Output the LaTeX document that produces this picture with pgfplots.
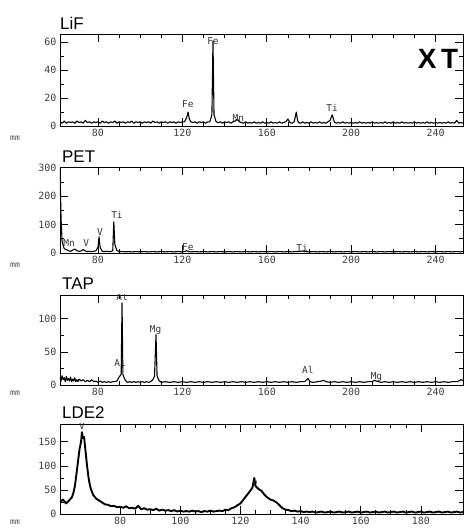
\documentclass[border=0pt]{standalone}
\usepackage{pgfplots}
\pgfplotsset{compat=1.18}
\usepackage{fontspec}
\setmainfont{Liberation Sans}
\newfontfamily\tickfont{DejaVu Sans Mono}
\pgfplotsset{
  spec/.style={
    scale only axis, width=403bp, anchor=south west,
    axis line style={line width=0.8pt},
    tick style={black, line width=0.7pt},
    tick align=inside,
    major tick length=8bp, minor tick length=4bp,
    ticklabel style={font=\tickfont\fontsize{10}{10}\selectfont, text=black!75},
    /pgf/number format/assume math mode=true,
  },
}
\tikzset{
  lbl/.style={font=\tickfont\fontsize{9.5}{9.5}\selectfont, text=black!80, inner sep=0pt},
  ttl/.style={font=\fontsize{17}{17}\selectfont, anchor=base west, inner sep=0pt},
  mm/.style={font=\tickfont\fontsize{8}{8}\selectfont, text=black!70, inner sep=0pt},
  trace/.style={black, line width=1.1pt, line join=round},
}
\begin{document}
\begin{tikzpicture}
\useasboundingbox (0bp,0bp) rectangle (468bp,528bp);
% ---------------- LiF ----------------
\begin{axis}[spec, at={(60bp,402bp)}, height=92bp,
  xmin=62, xmax=253, ymin=0, ymax=66,
  xtick={80,120,160,200,240}, minor x tick num=3,
  ytick={0,20,40,60}, minor y tick num=1]
\addplot[trace] table {
62 3
63 2
64 3.5
65 2
66 3
67 2.5
68 3
69 2
70 3.5
71 2.5
72 3
73 2
74 4
75 2.5
76 3
77 2
78 3
79 2.5
80 3
81 2
82 3.5
83 2.5
84 3
85 2
86 3
87 2.5
88 3.5
89 2
90 3
91 2.5
92 3
93 2
94 3
95 2.5
96 3.5
97 2
98 3
99 2.5
100 3
101 2
102 3
103 2.5
104 3
105 2
106 3.5
107 2.5
108 3
109 2
110 3
111 2.5
112 3
113 2
114 3
115 2.5
116 3
117 2
118 3
119 2.5
120 3
121 3
122 6
122.7 10
123.3 5
124 3
125 2.5
126 3
127 2
128 3
129 2.5
130 3
131 2
132 3
133 3
134 8
134.5 61
135 8
136 3
137 2.5
138 3
139 2
140 3
141 2.5
142 3
143 2
144 3
145 3.5
146 5
147 3
148 2.5
149 2
150 3
151 2
152 2.5
153 2
154 3
155 2
156 2.5
157 2
158 3
159 2
160 2.5
161 2
162 3
163 2
164 2.5
165 2
166 3
167 2
168 2.5
169 3
170 5
171 2.5
172 2
173 3
174 10
174.6 4
175 2.5
176 2
177 3
178 2
179 2.5
180 2
181 3
182 2
183 2.5
184 2
185 3
186 2
187 2.5
188 2
189 3
190 4
191 8
191.6 5
192 3
193 2
194 2.5
195 2
196 3
197 2
198 2.5
199 2
200 2.5
201 2
202 2.5
203 2
204 3
205 2
206 2.5
207 2
208 2.5
209 2
210 3
211 2
212 2.5
213 2
214 2.5
215 2
216 3
217 2
218 2.5
219 2
220 3
221 2
222 2.5
223 2
224 3
225 2
226 2.5
227 2
228 2.5
229 2
230 3
231 2
232 2.5
233 2
234 2.5
235 2
236 3
237 2
238 2.5
239 2
240 2.5
241 2
242 2.5
243 2
244 2.5
245 2
246 3
247 2
248 2.5
249 2
250 4
251 2
252 2.5
253 2
};
\node[lbl] at (axis cs:134.5,61) {Fe};
\node[lbl] at (axis cs:122.6,16) {Fe};
\node[lbl] at (axis cs:146.5,6) {Mn};
\node[lbl] at (axis cs:191,13) {Ti};
\end{axis}
\node[ttl] at (60bp,498bp) {LiF};
\node[font=\bfseries\fontsize{28}{28}\selectfont, inner sep=0pt] at (438bp,469bp) {X\,T};
\node[mm] at (15bp,390bp) {mm};
% ---------------- PET ----------------
\begin{axis}[spec, at={(60bp,275bp)}, height=86bp,
  xmin=62, xmax=253, ymin=0, ymax=303,
  xtick={80,120,160,200,240}, minor x tick num=3,
  ytick={0,100,200,300}, minor y tick num=1]
\addplot[trace] table {
62 300
62.5 120
63 40
64 15
65 12
66 8
67 6
68 10
69 14
70 8
71 6
72 7
73 12
74 7
75 5
76 6
77 5
78 6
79 8
80 20
80.5 57
81 20
82 6
83 5
84 6
85 5
86 5
87 8
87.5 110
88 30
89 8
90 6
91 5
92 5
93 4
94 5
96 4
98 5
100 4
102 5
104 4
106 5
108 4
110 5
112 4
114 5
116 4
118 5
120 4
121 5
122 8
123 5
124 4
126 5
128 4
130 5
132 4
134 5
136 4
138 5
140 4
142 5
144 4
146 5
148 4
150 5
152 4
154 5
156 4
158 5
160 4
162 5
164 4
166 5
168 4
170 5
172 4
174 5
176 6
177 7
178 5
180 4
182 5
184 4
186 5
188 4
190 5
192 4
194 5
196 4
198 5
200 4
202 5
204 4
206 5
208 4
210 5
212 4
214 5
216 4
218 5
220 4
222 5
224 4
226 5
228 4
230 5
232 4
234 5
236 4
238 5
240 4
242 5
244 4
246 5
248 4
250 5
252 4
253 5
};
\node[lbl] at (axis cs:66.3,35) {Mn};
\node[lbl] at (axis cs:74.4,35) {V};
\node[lbl] at (axis cs:81,74) {V};
\node[lbl] at (axis cs:89,134) {Ti};
\node[lbl] at (axis cs:122.6,21) {Fe};
\node[lbl] at (axis cs:176.7,18) {Ti};
\end{axis}
\node[ttl] at (62bp,365bp) {PET};
\node[mm] at (15bp,263bp) {mm};
% ---------------- TAP ----------------
\begin{axis}[spec, at={(60bp,143bp)}, height=90bp,
  xmin=62, xmax=253, ymin=0, ymax=136,
  xtick={80,120,160,200,240}, minor x tick num=3,
  ytick={0,50,100}, minor y tick num=1]
\addplot[trace] table {
62 12
62.5 6
63 14
63.5 8
64 11
64.5 5
65 13
65.5 7
66 10
66.5 6
67 12
67.5 5
68 9
68.5 6
69 11
69.5 5
70 8
70.5 5
71 9
72 6
73 8
74 5
75 7
76 5
77 8
78 5
79 6
80 4
81 6
82 4
83 5
84 4
85 5
86 4
87 5
88 5
89 6
90 12
91 16
91.4 124
91.8 16
92.5 10
93.5 5
94 4
95 5
96 4
97 5
98 4
99 5
100 4
101 5
102 4
103 5
104 4
105 5
106 8
106.8 13
107.5 76
108 14
108.7 8
109.5 5
110 4
112 5
114 4
116 5
118 4
120 5
122 4
124 5
126 4
128 5
130 4
132 5
134 4
136 5
138 4
140 5
142 4
144 5
146 4
148 5
150 4
152 5
154 4
156 5
158 4
160 5
162 4
164 5
166 4
168 5
170 4
172 5
174 4
176 5
178 5
179.5 10
180.5 5
182 4
184 5
186 6
187 7
188 5
190 4
192 5
194 4
196 5
198 4
200 5
202 4
204 5
206 4
208 5
210 5
211 7
212 6
213 5
214 4
216 5
218 4
220 5
222 4
224 5
226 4
228 5
230 4
232 5
234 4
236 5
238 4
240 5
242 4
244 5
246 4
248 5
250 5
251 6
252 8
253 7
};
\node[lbl] at (axis cs:91.4,133) {Al};
\node[lbl] at (axis cs:90.5,33) {Al};
\node[lbl] at (axis cs:107.3,83) {Mg};
\node[lbl] at (axis cs:179.5,23) {Al};
\node[lbl] at (axis cs:212,12) {Mg};
\end{axis}
\node[ttl] at (62bp,238bp) {TAP};
\node[mm] at (15bp,135bp) {mm};
% ---------------- LDE2 ----------------
\begin{axis}[spec, at={(60bp,14bp)}, height=90bp,
  xmin=60, xmax=194, ymin=0, ymax=187,
  xtick={80,100,120,140,160,180}, minor x tick num=3,
  ytick={0,50,100,150}, minor y tick num=1]
\addplot[trace, line width=1.9pt] table {
60 25
61 30
62 22
63 28
64 35
64.5 45
65 60
65.5 85
66 110
66.5 135
67 150
67.3 170
67.6 158
68 160
68.5 130
69 100
69.5 75
70 58
70.5 48
71 40
72 32
73 28
74 24
75 20
76 19
77 16
78 17
79 14
80 15
81 13
82 16
83 12
84 13
85 11
86 17
87 10
88 12
89 9
90 10
91 8
92 11
93 7
94 9
95 7
96 8
97 6
98 8
99 5
100 7
101 5
102 6
103 5
104 7
105 5
106 6
107 4
108 6
109 5
110 7
111 5
112 6
113 7
114 6
115 9
116 8
117 12
118 14
119 18
120 22
121 30
122 38
123 46
124 55
124.6 75
125 58
126 52
127 48
128 40
129 34
130 30
131 28
132 24
133 18
134 12
135 9
136 8
137 6
138 7
139 5
140 6
141 4
142 5
143 4
144 5
145 3
146 4
147 5
148 3
149 4
150 5
151 3
152 4
153 5
154 3
155 4
156 5
157 3
158 4
159 5
160 3
161 4
162 5
163 3
164 4
165 5
166 3
167 4
168 5
169 3
170 4
171 5
172 3
173 4
174 5
175 3
176 4
177 5
178 3
179 4
180 5
181 3
182 4
183 5
184 3
185 4
186 5
187 3
188 4
189 5
190 3
191 4
192 5
193 3
194 4
};
\node[lbl] at (axis cs:67.3,183) {V};
\node[lbl, font=\tickfont\fontsize{7}{7}\selectfont] at (axis cs:125,66) {o};
\end{axis}
\node[ttl] at (62bp,109bp) {LDE2};
\node[mm] at (15bp,6bp) {mm};
\end{tikzpicture}
\end{document}
